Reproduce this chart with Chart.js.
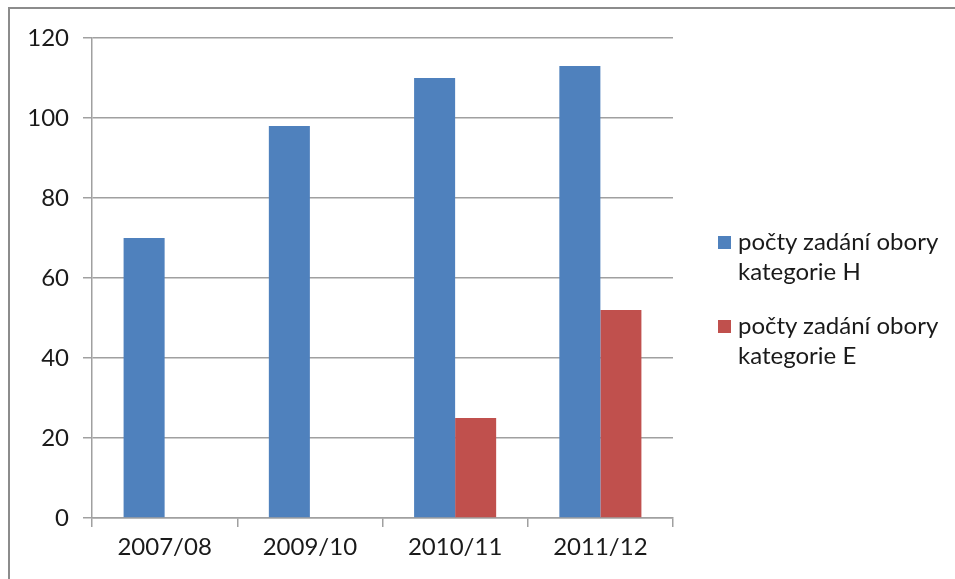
<!DOCTYPE html>
<html><head><meta charset="utf-8">
<script src="https://cdn.jsdelivr.net/npm/chart.js@4"></script>
<style>
html,body{margin:0;padding:0;background:#fff;}
#wrap{position:relative;width:955px;height:579px;overflow:hidden;}
#frame{position:absolute;left:8px;top:7px;width:960px;height:600px;border-top:2px solid #8c8c8c;border-left:2px solid #8c8c8c;box-sizing:border-box;}
canvas{position:absolute;left:0;top:0;}
#legend{position:absolute;left:716px;top:226px;font-family:Lato,"Open Sans",sans-serif;font-size:24px;color:#1a1a1a;line-height:30px;}
.item{position:relative;padding-left:22px;margin-bottom:24px;}
.sw{position:absolute;left:2px;top:10px;width:13px;height:13px;}
</style></head>
<body><div id="wrap"><div id="frame"></div><canvas id="c" width="955" height="579"></canvas>
<div id="legend"></div></div>
<script>
const categories = ["2007/08","2009/10","2010/11","2011/12"];
const seriesNames = ["počty zadání obory\nkategorie H","počty zadání obory\nkategorie E"];
const valuesH = [70, 98, 110, 113];
const valuesE = [null, null, 25, 52];
const colors = ["#4F81BD","#C0504D"];

const leg = document.getElementById('legend');
seriesNames.forEach((n,i)=>{
  const d=document.createElement('div');d.className='item';
  const s=document.createElement('span');s.className='sw';s.style.background=colors[i];
  d.appendChild(s);
  n.split('\n').forEach((t,j)=>{ if(j) d.appendChild(document.createElement('br')); d.appendChild(document.createTextNode(t)); });
  leg.appendChild(d);
});

const gridColor = '#a0a0a0';
const font = {family:'Lato, "Open Sans", sans-serif', size:24};
new Chart(document.getElementById('c'),{
  type:'bar',
  data:{labels:categories,datasets:[
    {label:seriesNames[0],data:valuesH,backgroundColor:colors[0]},
    {label:seriesNames[1],data:valuesE,backgroundColor:colors[1]}
  ]},
  options:{
    responsive:false,animation:false,
    layout:{padding:{left:0,top:38,right:282,bottom:0}},
    plugins:{legend:{display:false},tooltip:{enabled:false}},
    datasets:{bar:{categoryPercentage:0.565,barPercentage:1}},
    scales:{
      x:{
        grid:{display:true,drawOnChartArea:false,drawTicks:true,tickLength:9,color:gridColor,lineWidth:1.5},
        border:{display:true,color:gridColor,width:1.5},
        ticks:{font:font,color:'#1a1a1a',padding:6},
        afterFit:(s)=>{s.height=61;}
      },
      y:{
        min:0,max:120,
        ticks:{stepSize:20,font:font,color:'#1a1a1a',padding:14},
        grid:{color:gridColor,lineWidth:1.5,tickLength:9},
        border:{display:true,color:gridColor,width:1.5},
        afterFit:(s)=>{s.width=92;}
      }
    }
  }
});
</script></body></html>
